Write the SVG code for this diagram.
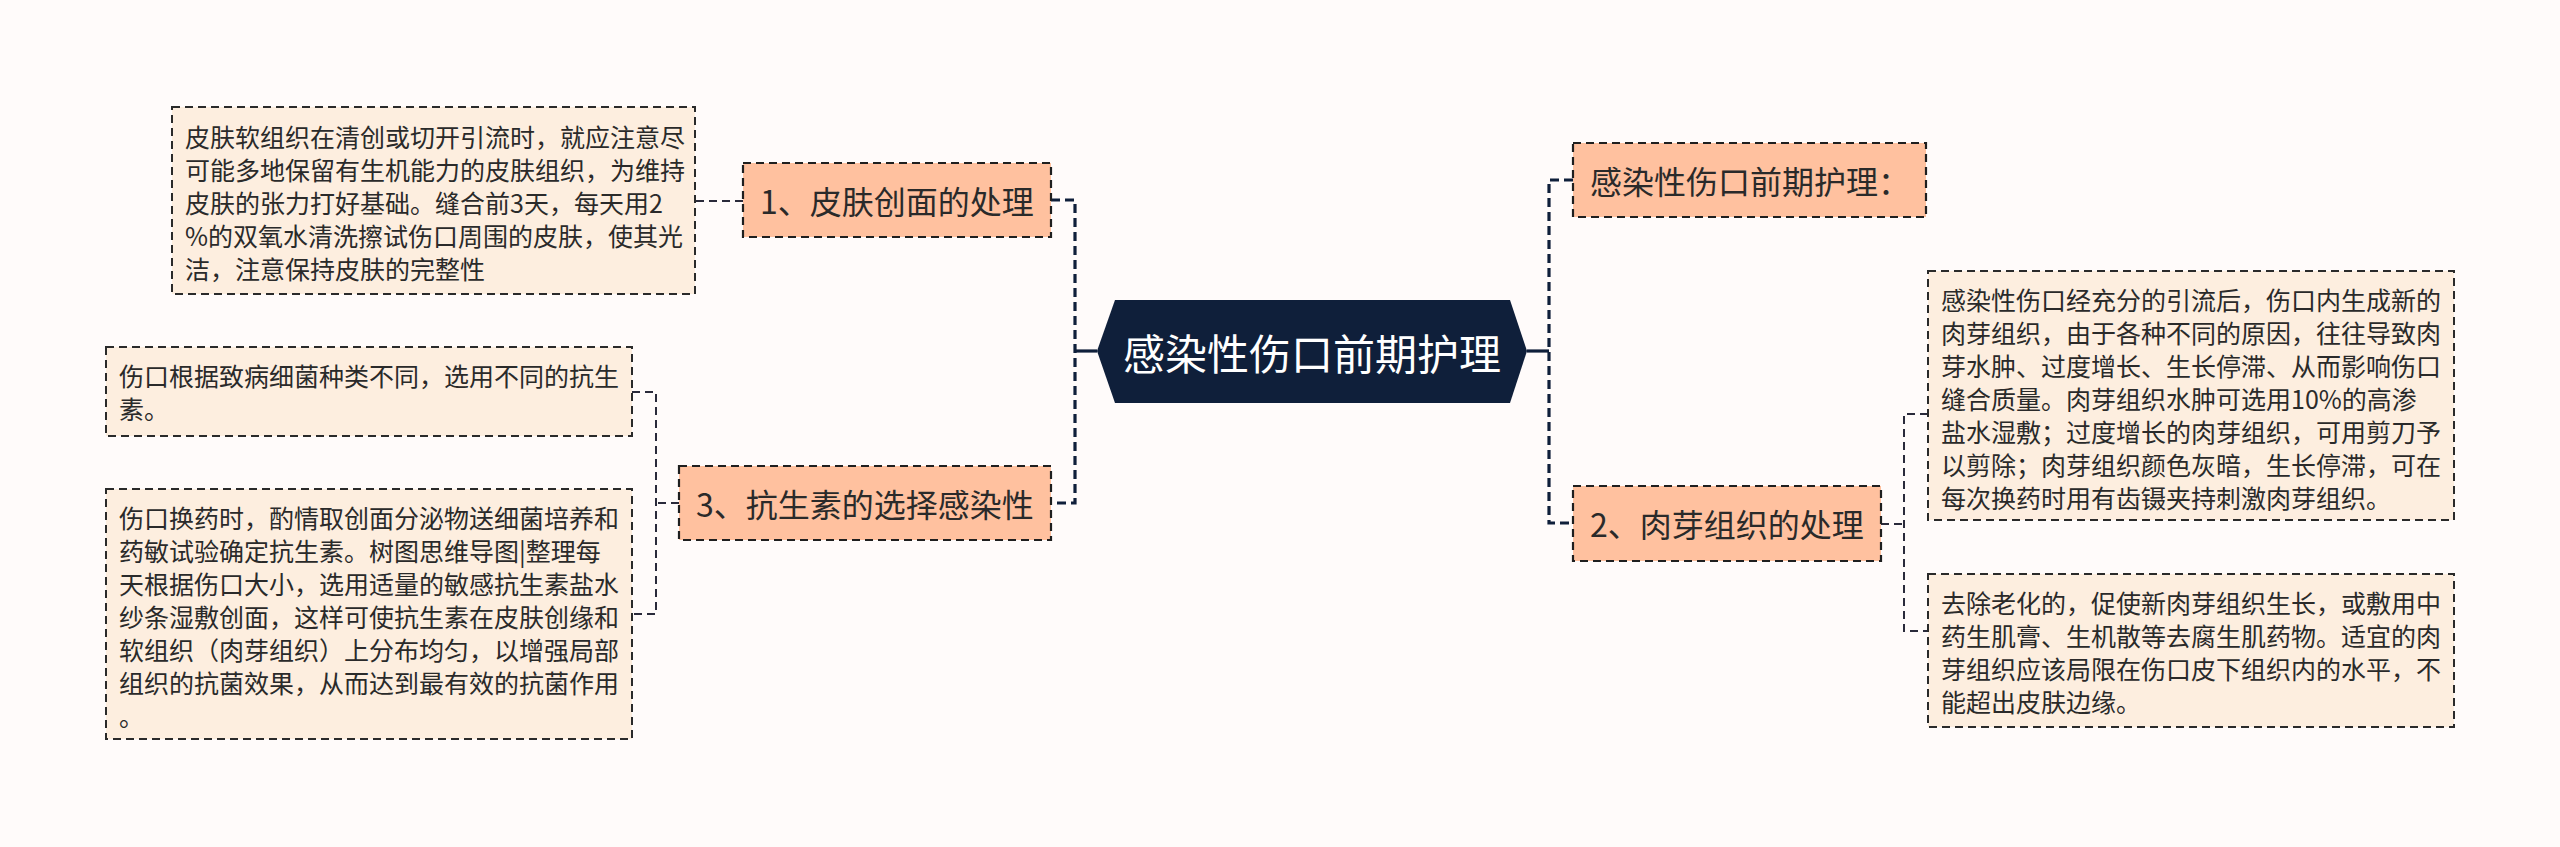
<svg xmlns="http://www.w3.org/2000/svg" width="2560" height="847" viewBox="0 0 2560 847">
<style>
.bg{fill:#fffbfa}
.node rect{fill:#ffc19f;stroke:#1f1f1f;stroke-width:2.2;stroke-dasharray:8 5}
.box rect{fill:#fdeedf;stroke:#2a2a2a;stroke-width:2;stroke-dasharray:8 5}
.nt{font-family:"Noto Sans CJK SC","Noto Sans",sans-serif;font-size:32px;fill:#2a2a2a;dominant-baseline:central}
.bt{font-family:"Noto Sans CJK SC","Noto Sans",sans-serif;font-size:25px;fill:#2a2a2a;dominant-baseline:central}
.ct{font-family:"Noto Sans CJK SC","Noto Sans",sans-serif;font-size:42px;fill:#ffffff;dominant-baseline:central}
.spine{fill:none;stroke:#0f1f3a;stroke-width:3.2;stroke-dasharray:9 5}
.child{fill:none;stroke:#2a2a3a;stroke-width:2;stroke-dasharray:8 5}
.solid{fill:none;stroke:#0f1f3a;stroke-width:3.2}
</style>
<rect class="bg" x="0" y="0" width="2560" height="847"/>
<g id="connectors">
<path class="spine" d="M1051,200 H1075 V503 H1051"/>
<path class="solid" d="M1097,351 H1075"/>
<path class="spine" d="M1573,180 H1549 V523 H1573"/>
<path class="solid" d="M1527,351 H1549"/>
<path class="child" d="M743,201 H695"/>
<path class="child" d="M679,503 H656"/>
<path class="child" d="M632,392 H656 V614 H632"/>
<path class="child" d="M1881,524 H1904"/>
<path class="child" d="M1928,414 H1904 V631 H1928"/>
</g>
<g id="center">
<polygon points="1115,300 1510,300 1527,351 1510,403 1115,403 1097,351" fill="#0f1f3a"/>
<text class="ct" x="1312" y="351" text-anchor="middle">感染性伤口前期护理</text>
</g>
<g id="node1" class="node">
<rect x="743" y="163" width="308" height="74"/>
<text class="nt" x="897" y="200" text-anchor="middle">1、皮肤创面的处理</text>
</g>
<g id="node3" class="node">
<rect x="679" y="466" width="372" height="74"/>
<text class="nt" x="865" y="503" text-anchor="middle">3、抗生素的选择感染性</text>
</g>
<g id="nodeR" class="node">
<rect x="1573" y="143" width="353" height="74"/>
<text class="nt" x="1590" y="180">感染性伤口前期护理：</text>
</g>
<g id="node2" class="node">
<rect x="1573" y="486" width="308" height="75"/>
<text class="nt" x="1727" y="523" text-anchor="middle">2、肉芽组织的处理</text>
</g>
<g id="box1" class="box">
<rect x="172" y="107" width="523" height="187"/>
<text class="bt" x="185" y="136">
<tspan x="185" dy="0">皮肤软组织在清创或切开引流时，就应注意尽</tspan>
<tspan x="185" dy="33">可能多地保留有生机能力的皮肤组织，为维持</tspan>
<tspan x="185" dy="33">皮肤的张力打好基础。缝合前3天，每天用2</tspan>
<tspan x="185" dy="33">%的双氧水清洗擦试伤口周围的皮肤，使其光</tspan>
<tspan x="185" dy="33">洁，注意保持皮肤的完整性</tspan>
</text>
</g>
<g id="box3a" class="box">
<rect x="106" y="347" width="526" height="89"/>
<text class="bt" x="119" y="375">
<tspan x="119" dy="0">伤口根据致病细菌种类不同，选用不同的抗生</tspan>
<tspan x="119" dy="33">素。</tspan>
</text>
</g>
<g id="box3b" class="box">
<rect x="106" y="489" width="526" height="250"/>
<text class="bt" x="119" y="517">
<tspan x="119" dy="0">伤口换药时，酌情取创面分泌物送细菌培养和</tspan>
<tspan x="119" dy="33">药敏试验确定抗生素。树图思维导图|整理每</tspan>
<tspan x="119" dy="33">天根据伤口大小，选用适量的敏感抗生素盐水</tspan>
<tspan x="119" dy="33">纱条湿敷创面，这样可使抗生素在皮肤创缘和</tspan>
<tspan x="119" dy="33">软组织（肉芽组织）上分布均匀，以增强局部</tspan>
<tspan x="119" dy="33">组织的抗菌效果，从而达到最有效的抗菌作用</tspan>
<tspan x="119" dy="33">。</tspan>
</text>
</g>
<g id="box2a" class="box">
<rect x="1928" y="271" width="526" height="249"/>
<text class="bt" x="1941" y="299">
<tspan x="1941" dy="0">感染性伤口经充分的引流后，伤口内生成新的</tspan>
<tspan x="1941" dy="33">肉芽组织，由于各种不同的原因，往往导致肉</tspan>
<tspan x="1941" dy="33">芽水肿、过度增长、生长停滞、从而影响伤口</tspan>
<tspan x="1941" dy="33">缝合质量。肉芽组织水肿可选用10%的高渗</tspan>
<tspan x="1941" dy="33">盐水湿敷；过度增长的肉芽组织，可用剪刀予</tspan>
<tspan x="1941" dy="33">以剪除；肉芽组织颜色灰暗，生长停滞，可在</tspan>
<tspan x="1941" dy="33">每次换药时用有齿镊夹持刺激肉芽组织。</tspan>
</text>
</g>
<g id="box2b" class="box">
<rect x="1928" y="574" width="526" height="153"/>
<text class="bt" x="1941" y="602">
<tspan x="1941" dy="0">去除老化的，促使新肉芽组织生长，或敷用中</tspan>
<tspan x="1941" dy="33">药生肌膏、生机散等去腐生肌药物。适宜的肉</tspan>
<tspan x="1941" dy="33">芽组织应该局限在伤口皮下组织内的水平，不</tspan>
<tspan x="1941" dy="33">能超出皮肤边缘。</tspan>
</text>
</g>
</svg>
